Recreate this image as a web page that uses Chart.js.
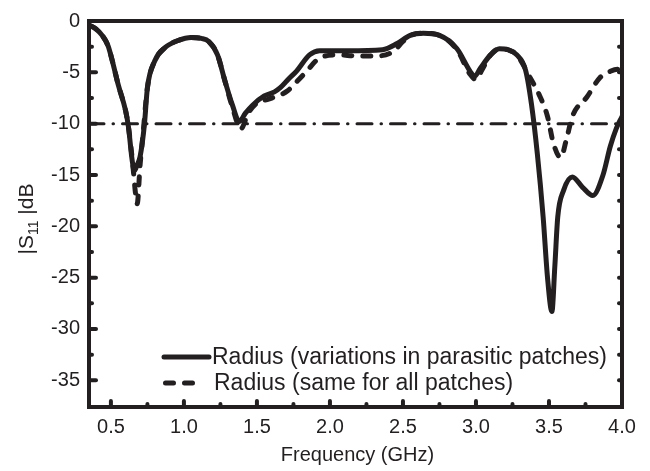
<!DOCTYPE html>
<html>
<head>
<meta charset="utf-8">
<script src="https://cdn.jsdelivr.net/npm/chart.js@4/dist/chart.umd.min.js"></script>
<style>
  html, body { margin: 0; padding: 0; background: #ffffff; }
  #wrap { width: 650px; height: 471px; }
</style>
</head>
<body>
<div id="wrap"><canvas id="mycanvas"></canvas></div>
<script>
// data
const freqSolid = [0.35, 0.40, 0.44, 0.48, 0.51, 0.55, 0.60, 0.62, 0.645, 0.66, 0.68, 0.70, 0.73, 0.75, 0.80, 0.87, 0.96, 1.05, 1.12, 1.17,
  1.23, 1.28, 1.33, 1.38, 1.42, 1.47, 1.55, 1.62, 1.66, 1.72, 1.77, 1.86, 1.93, 2.12, 2.36, 2.46, 2.55, 2.64, 2.75, 2.87,
  2.96, 2.99, 3.03, 3.10, 3.16, 3.22, 3.28, 3.34, 3.38, 3.42, 3.46, 3.49, 3.52, 3.54, 3.56, 3.60, 3.66, 3.73, 3.80, 3.87,
  3.92, 3.96, 4.00];
const s11Solid = [-0.4, -0.8, -1.4, -2.4, -3.9, -6.2, -8.7, -10.3, -13.5, -14.6, -14.0, -13.2, -10.0, -6.5, -3.9, -2.6, -1.9, -1.6, -1.7, -2.0,
  -3.3, -5.8, -8.1, -9.8, -9.0, -8.2, -7.3, -6.9, -6.5, -5.6, -4.9, -3.3, -2.9, -2.9, -2.8, -2.2, -1.4, -1.2, -1.4, -2.7,
  -4.9, -5.4, -4.6, -3.3, -2.7, -2.8, -3.3, -4.8, -8.1, -12.9, -19.1, -25.0, -28.3, -23.9, -19.1, -16.5, -15.2, -16.2, -17.0, -15.0,
  -12.2, -10.5, -9.3];

const freqDashed = [0.35, 0.40, 0.44, 0.48, 0.51, 0.55, 0.60, 0.62, 0.65, 0.67, 0.68, 0.70, 0.72, 0.75, 0.80, 0.87, 0.96, 1.05, 1.12, 1.17,
  1.23, 1.28, 1.33, 1.39, 1.44, 1.50, 1.58, 1.66, 1.71, 1.78, 1.84, 1.92, 2.05, 2.19, 2.32, 2.43, 2.50, 2.55, 2.64, 2.75,
  2.87, 2.96, 3.00, 3.04, 3.10, 3.16, 3.22, 3.28, 3.37, 3.44, 3.49, 3.53, 3.58, 3.62, 3.66, 3.76, 3.85, 3.92, 3.97, 4.00];
const s11Dashed = [-0.4, -0.8, -1.4, -2.4, -3.9, -6.2, -8.7, -10.3, -14.0, -17.0, -17.8, -14.0, -11.0, -6.5, -3.9, -2.6, -1.9, -1.6, -1.7, -2.0,
  -3.3, -5.8, -8.3, -10.5, -9.0, -8.0, -7.6, -7.2, -6.8, -5.8, -4.9, -3.7, -3.3, -3.4, -3.4, -3.0, -2.0, -1.4, -1.2, -1.4,
  -2.8, -5.2, -5.7, -4.8, -3.3, -2.7, -2.8, -3.3, -5.5, -7.4, -9.3, -11.9, -13.3, -11.5, -9.3, -7.4, -5.5, -4.9, -4.7, -5.0];

const threshold = -10;
const seriesLabels = ["Radius (variations in parasitic patches)", "Radius (same for all patches)"];

const xTickLabels = [0.5, 1.0, 1.5, 2.0, 2.5, 3.0, 3.5, 4.0];
const xMinorTicks = [0.75, 1.25, 1.75, 2.25, 2.75, 3.25, 3.75];
const yTickLabels = [0, -5, -10, -15, -20, -25, -30, -35];
const yMinorTicks = [-2.5, -7.5, -12.5, -17.5, -22.5, -27.5, -32.5];

const ink = "#231f20";
const fontFamily = "'Liberation Sans', Arial, Helvetica, sans-serif";

function toPoints(xs, ys) {
  return xs.map((x, i) => ({ x: x, y: ys[i] }));
}

// frame, inward ticks, axis titles and legend
const decorations = {
  id: "decorations",
  afterDraw(chart) {
    const ctx = chart.ctx;
    const area = chart.chartArea;
    const xs = chart.scales.x;
    const ys = chart.scales.y;
    ctx.save();
    ctx.strokeStyle = ink;
    ctx.lineCap = "round";

    // ticks
    ctx.lineWidth = 4;
    const tick = (x1, y1, x2, y2) => {
      ctx.beginPath();
      ctx.moveTo(x1, y1);
      ctx.lineTo(x2, y2);
      ctx.stroke();
    };
    xTickLabels.forEach((v) => {
      const px = xs.getPixelForValue(v);
      tick(px, area.bottom, px, area.bottom - 6);
    });
    xMinorTicks.forEach((v) => {
      const px = xs.getPixelForValue(v);
      tick(px, area.bottom, px, area.bottom - 3);
    });
    yTickLabels.forEach((v) => {
      const py = ys.getPixelForValue(v);
      tick(area.left, py, area.left + 7, py);
      tick(area.right, py, area.right - 3, py);
    });
    yMinorTicks.forEach((v) => {
      const py = ys.getPixelForValue(v);
      tick(area.left, py, area.left + 3, py);
      tick(area.right, py, area.right - 3, py);
    });

    // frame
    ctx.lineWidth = 4;
    ctx.lineCap = "square";
    ctx.strokeRect(area.left, area.top, area.right - area.left, area.bottom - area.top);

    // x title
    ctx.fillStyle = ink;
    ctx.font = "20px " + fontFamily;
    ctx.textAlign = "center";
    ctx.textBaseline = "alphabetic";
    ctx.fillText("Frequency (GHz)", (area.left + area.right) / 2 + 2, 461);

    // y title with subscript
    ctx.save();
    ctx.translate(33, 219);
    ctx.rotate(-Math.PI / 2);
    const big = "21px " + fontFamily;
    const small = "14px " + fontFamily;
    const parts = [
      { t: "|S", f: big, dy: 0 },
      { t: "11", f: small, dy: 5 },
      { t: " |dB", f: big, dy: 0 },
    ];
    let total = 0;
    parts.forEach((p) => { ctx.font = p.f; total += ctx.measureText(p.t).width; });
    let cx = -total / 2;
    ctx.textAlign = "left";
    parts.forEach((p) => {
      ctx.font = p.f;
      ctx.fillText(p.t, cx, p.dy);
      cx += ctx.measureText(p.t).width;
    });
    ctx.restore();

    // legend
    const rows = [
      { ds: chart.data.datasets[0], y: 357, x1: 164, x2: 209, tx: 212 },
      { ds: chart.data.datasets[1], y: 383, x1: 165.5, x2: 194, tx: 214 },
    ];
    ctx.font = "23px " + fontFamily;
    ctx.textAlign = "left";
    ctx.textBaseline = "middle";
    rows.forEach((r) => {
      ctx.strokeStyle = r.ds.borderColor;
      ctx.lineWidth = r.ds.borderWidth;
      ctx.lineCap = "round";
      ctx.setLineDash(r.ds.borderDash || []);
      tick(r.x1, r.y, r.x2, r.y);
      ctx.setLineDash([]);
      ctx.fillText(r.ds.label, r.tx, r.y + 1);
    });
    ctx.restore();
  },
};

const ctx = document.getElementById("mycanvas");
const myChart = new Chart(ctx, {
  type: "line",
  data: {
    datasets: [
      {
        label: seriesLabels[0],
        data: toPoints(freqSolid, s11Solid),
        borderColor: ink,
        borderWidth: 5,
        borderCapStyle: "round",
        borderJoinStyle: "round",
        pointRadius: 0,
        cubicInterpolationMode: "monotone",
      },
      {
        label: seriesLabels[1],
        data: toPoints(freqDashed, s11Dashed),
        borderColor: ink,
        borderWidth: 5,
        borderDash: [8, 11],
        borderCapStyle: "round",
        borderJoinStyle: "round",
        pointRadius: 0,
        cubicInterpolationMode: "monotone",
      },
      {
        label: "-10 dB",
        data: [{ x: 0.35, y: threshold }, { x: 4.0, y: threshold }],
        borderColor: ink,
        borderWidth: 3,
        borderDash: [15, 9, 0.5, 9],
        borderCapStyle: "round",
        pointRadius: 0,
      },
    ],
  },
  options: {
    responsive: true,
    maintainAspectRatio: false,
    animation: false,
    layout: { padding: { top: 12, right: 28, left: 0, bottom: 0 } },
    plugins: {
      legend: { display: false },
      tooltip: { enabled: false },
    },
    scales: {
      x: {
        type: "linear",
        min: 0.35,
        max: 4.0,
        grid: { display: false, drawTicks: false },
        border: { display: false },
        afterBuildTicks: (scale) => { scale.ticks = xTickLabels.map((v) => ({ value: v })); },
        afterFit: (scale) => { scale.height = 64; },
        ticks: {
          autoSkip: false,
          maxRotation: 0,
          padding: 8,
          color: ink,
          font: { family: fontFamily, size: 20 },
          callback: (v) => Number(v).toFixed(1),
        },
      },
      y: {
        type: "linear",
        min: -37.6,
        max: 0,
        grid: { display: false, drawTicks: false },
        border: { display: false },
        afterBuildTicks: (scale) => { scale.ticks = yTickLabels.map((v) => ({ value: v })); },
        afterFit: (scale) => { scale.width = 89; },
        ticks: {
          autoSkip: false,
          padding: 9,
          color: ink,
          font: { family: fontFamily, size: 20 },
          callback: (v) => String(v),
        },
      },
    },
  },
  plugins: [decorations],
});
</script>
</body>
</html>
